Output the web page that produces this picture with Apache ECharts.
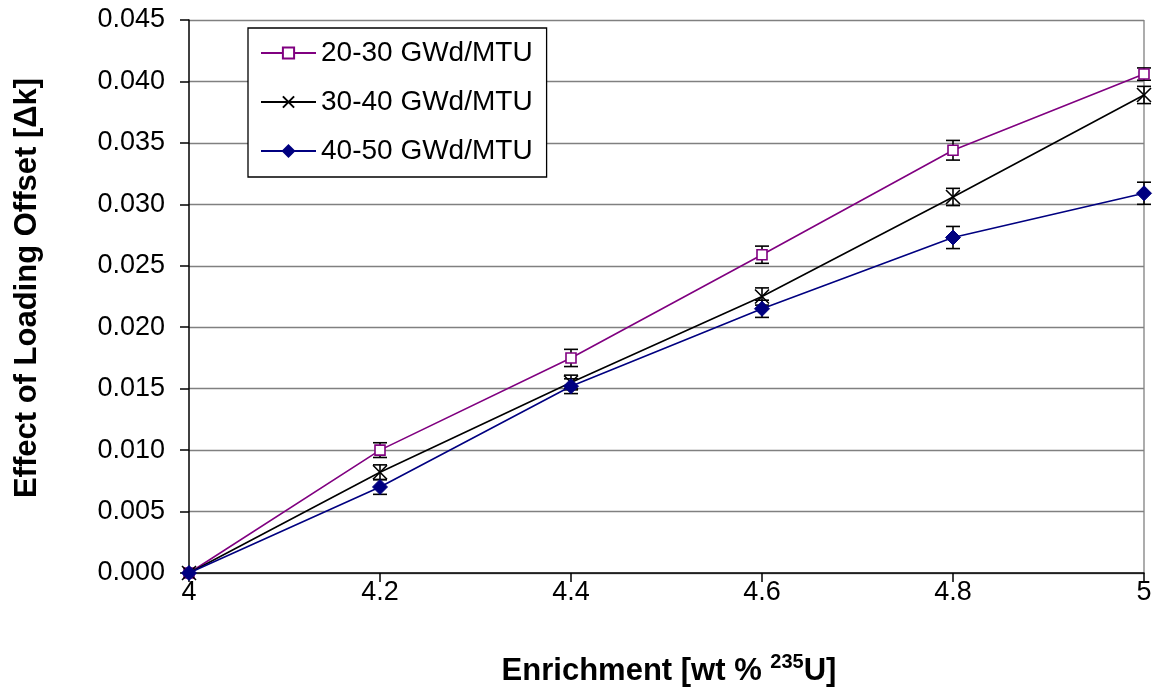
<!DOCTYPE html>
<html>
<head>
<meta charset="utf-8">
<script src="https://cdn.jsdelivr.net/npm/echarts@6/dist/echarts.min.js"></script>
<style>
html,body{margin:0;padding:0;background:#fff;}
#chart{width:1160px;height:692px;}
</style>
</head>
<body>
<div id="chart"></div>
<script>
const enrichment = [4.0, 4.2, 4.4, 4.6, 4.8, 5.0];
const seriesNames = ['20-30 GWd/MTU', '30-40 GWd/MTU', '40-50 GWd/MTU'];
const s1Values = [0.0000, 0.0100, 0.0175, 0.0259, 0.0344, 0.0406];
const s2Values = [0.0000, 0.0082, 0.0155, 0.0225, 0.0306, 0.0389];
const s3Values = [0.0000, 0.0070, 0.0152, 0.0215, 0.0273, 0.0309];
const s1Errors = [0.0000, 0.0006, 0.0007, 0.0007, 0.0008, 0.0005];
const s2Errors = [0.0000, 0.0006, 0.0006, 0.0007, 0.0007, 0.0007];
const s3Errors = [0.0000, 0.0006, 0.0006, 0.0007, 0.0009, 0.0009];
const yTickLabels = ['0.000','0.005','0.010','0.015','0.020','0.025','0.030','0.035','0.040','0.045'];

const FONT = '"Liberation Sans", Arial, sans-serif';
const colors = ['#800080', '#000000', '#000080'];

function pairs(vals) { return enrichment.map((x, i) => [x, vals[i]]); }
function errData(vals, errs) { return enrichment.map((x, i) => [x, vals[i] - errs[i], vals[i] + errs[i]]); }

function errSeries(vals, errs) {
  return {
    type: 'custom',
    silent: true,
    z: 1,
    data: errData(vals, errs),
    renderItem: function (params, api) {
      const x = api.value(0);
      const lo = api.coord([x, api.value(1)]);
      const hi = api.coord([x, api.value(2)]);
      const hw = 7;
      const st = { stroke: '#000', lineWidth: 1.6 };
      return {
        type: 'group',
        children: [
          { type: 'line', shape: { x1: lo[0], y1: lo[1], x2: hi[0], y2: hi[1] }, style: st },
          { type: 'line', shape: { x1: lo[0] - hw, y1: lo[1], x2: lo[0] + hw, y2: lo[1] }, style: st },
          { type: 'line', shape: { x1: hi[0] - hw, y1: hi[1], x2: hi[0] + hw, y2: hi[1] }, style: st }
        ]
      };
    }
  };
}

const chart = echarts.init(document.getElementById('chart'), null, { renderer: 'canvas' });
chart.setOption({
  backgroundColor: '#fff',
  animation: false,
  grid: { left: 189, right: 16, top: 20, bottom: 119, containLabel: false },
  xAxis: {
    type: 'value', min: 4, max: 5, interval: 0.2,
    axisLine: { lineStyle: { color: '#000', width: 1.5 } },
    axisTick: { show: true, inside: false, length: 9, lineStyle: { color: '#000', width: 1.5 } },
    axisLabel: { color: '#000', fontFamily: FONT, fontSize: 27, margin: 6,
      formatter: v => String(Math.round(v * 10) / 10) },
    splitLine: { show: false }
  },
  yAxis: {
    type: 'value', min: 0, max: 0.045, interval: 0.005,
    axisLine: { show: true, lineStyle: { color: '#000', width: 1.5 } },
    axisTick: { show: true, inside: false, length: 9, lineStyle: { color: '#000', width: 1.5 } },
    axisLabel: { color: '#000', fontFamily: FONT, fontSize: 27, margin: 24,
      formatter: (v) => yTickLabels[Math.round(v / 0.005)] },
    splitLine: { show: true, lineStyle: { color: '#808080', width: 1.3 } }
  },
  graphic: [
    { type: 'line', shape: { x1: 1144, y1: 20, x2: 1144, y2: 573 }, style: { stroke: '#808080', lineWidth: 1.3 }, z: 0 },
    { type: 'text', x: 27, y: 288, rotation: Math.PI / 2,
      style: { text: 'Effect of Loading Offset [Δk]', font: 'bold 31px ' + FONT, fill: '#000',
        textAlign: 'center', textVerticalAlign: 'middle' } },
    { type: 'text', x: 669, y: 671,
      style: { text: 'Enrichment [wt % {sup|235}U]', font: 'bold 31px ' + FONT, fill: '#000',
        textAlign: 'center', textVerticalAlign: 'middle',
        rich: { sup: { font: 'bold 20px ' + FONT, fill: '#000', padding: [0, 0, 18, 0] } } } }
  ],
  legend: {
    orient: 'vertical', left: 248, top: 28,
    data: seriesNames,
    backgroundColor: '#fff', borderColor: '#000', borderWidth: 1.3,
    padding: [11, 14, 12, 12], itemGap: 21, itemWidth: 55, itemHeight: 14,
    textStyle: { color: '#000', fontFamily: FONT, fontSize: 28 }
  },
  series: [
    errSeries(s1Values, s1Errors),
    errSeries(s2Values, s2Errors),
    errSeries(s3Values, s3Errors),
    { name: seriesNames[0], type: 'line', data: pairs(s1Values), z: 3,
      lineStyle: { color: colors[0], width: 1.6 },
      symbol: 'rect', symbolSize: 10, showAllSymbol: true,
      itemStyle: { color: '#fff', borderColor: colors[0], borderWidth: 1.6 } },
    { name: seriesNames[1], type: 'line', data: pairs(s2Values), z: 4,
      lineStyle: { color: colors[1], width: 1.6 },
      symbol: 'path://M0,0L10,10M10,0L0,10', symbolSize: 14, showAllSymbol: true,
      itemStyle: { color: 'none', borderColor: colors[1], borderWidth: 1.6 } },
    { name: seriesNames[2], type: 'line', data: pairs(s3Values), z: 5,
      lineStyle: { color: colors[2], width: 1.6 },
      symbol: 'diamond', symbolSize: 15, showAllSymbol: true,
      itemStyle: { color: colors[2], borderColor: colors[2], borderWidth: 1 } }
  ]
});
</script>
</body>
</html>
